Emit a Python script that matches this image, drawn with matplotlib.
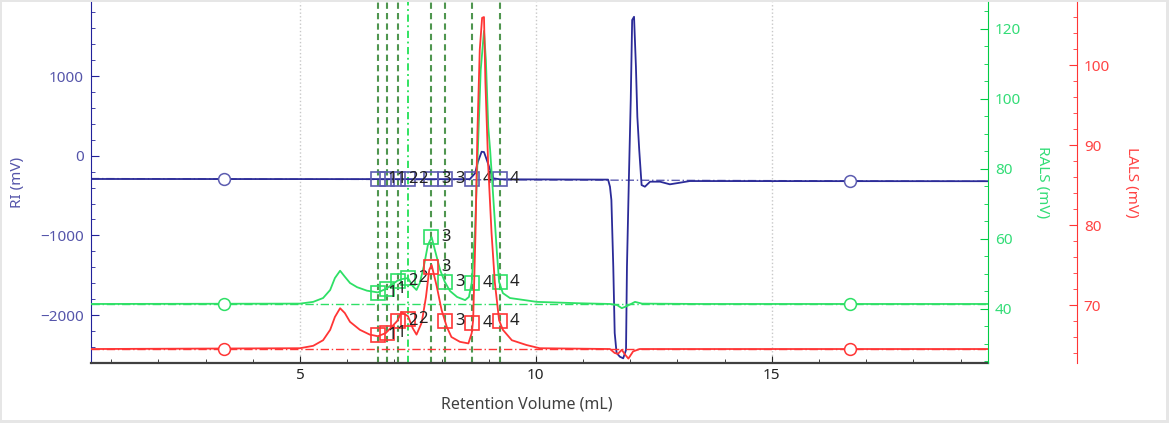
import matplotlib
matplotlib.use("Agg")
import matplotlib.pyplot as plt
from matplotlib.patches import Rectangle
from matplotlib.ticker import MultipleLocator

plt.rcParams['font.family'] = ['Noto Sans', 'DejaVu Sans']

# RI trace, retention volume (mL) vs mV
ri_x = [0.57, 8.60, 8.71, 8.77, 8.85, 8.90, 8.96, 9.03, 9.10, 9.24, 11.53, 11.57, 11.60,
        11.64, 11.67, 11.71, 11.78, 11.85, 11.91, 11.93, 11.97, 12.01, 12.04, 12.08, 12.12,
        12.15, 12.19, 12.24, 12.31, 12.42, 12.63, 12.84, 13.05, 13.26, 19.58]
ri_y = [-292, -294, -221, -79, 50, 46, -54, -179, -284, -296, -300, -389, -556,
        -1393, -2225, -2476, -2523, -2543, -2439, -1393, -305, 699, 1703, 1744, 1117,
        489, 72, -368, -389, -326, -326, -359, -339, -318, -320]

# RALS trace
rals_x = [0.57, 5.00, 5.28, 5.49, 5.64, 5.74, 5.85, 5.95, 6.06, 6.21, 6.42, 6.65, 6.82,
          7.06, 7.16, 7.29, 7.39, 7.47, 7.54, 7.63, 7.71, 7.79, 7.86, 7.97, 8.07, 8.18,
          8.33, 8.50, 8.58, 8.64, 8.71, 8.77, 8.83, 8.90, 8.94, 8.99, 9.03, 9.10, 9.17,
          9.22, 9.30, 9.45, 10.02, 10.93, 11.57, 11.72, 11.82, 11.93, 12.10, 12.25, 13.47, 19.58]
rals_y = [41.3, 41.4, 41.9, 43.0, 45.3, 48.7, 50.8, 49.1, 47.3, 46.1, 45.1, 44.6, 45.6,
          47.9, 48.4, 48.7, 46.4, 45.3, 47.3, 52.4, 58.1, 60.4, 56.7, 51.0, 47.6, 45.0,
          43.3, 42.4, 43.3, 47.3, 62.4, 85.3, 108.1, 119.3, 111.0, 91.9, 85.3, 71.0, 56.7,
          47.6, 44.4, 43.0, 41.9, 41.5, 41.3, 41.0, 40.1, 40.7, 41.9, 41.4, 41.3, 41.3]

# LALS trace
lals_x = [0.57, 5.00, 5.28, 5.49, 5.64, 5.74, 5.85, 5.95, 6.06, 6.27, 6.48, 6.65, 6.82,
          7.06, 7.15, 7.29, 7.39, 7.47, 7.58, 7.67, 7.74, 7.79, 7.90, 8.00, 8.11, 8.21,
          8.39, 8.57, 8.64, 8.67, 8.72, 8.76, 8.81, 8.86, 8.90, 8.93, 8.99, 9.06, 9.13,
          9.22, 9.30, 9.49, 9.80, 10.08, 11.57, 11.67, 11.74, 11.82, 11.89, 11.96, 12.06,
          12.20, 19.58]
lals_y = [64.5, 64.6, 64.9, 65.6, 66.9, 68.5, 69.6, 69.0, 67.9, 66.9, 66.3, 66.1, 66.5,
          68.0, 69.1, 68.6, 67.1, 66.3, 67.8, 71.0, 74.4, 75.0, 72.3, 69.4, 67.3, 66.0,
          65.4, 65.2, 66.5, 68.1, 79.0, 91.5, 101.9, 105.9, 106.0, 97.8, 87.3, 79.0, 72.8,
          68.1, 66.9, 65.6, 65.0, 64.6, 64.5, 64.0, 63.9, 64.4, 63.8, 63.3, 64.2,
          64.5, 64.5]

# peak limits and their labels
peak_x = [6.65, 6.84, 7.08, 7.29, 7.78, 8.08, 8.65, 9.24]
peak_labels = ['1', '1', '2', '2', '3', '3', '4', '4']
ri_marks = [-292, -292, -292, -292, -290, -292, -292, -292]
rals_marks = [44.5, 45.6, 47.9, 48.7, 60.4, 47.6, 47.2, 47.7]
lals_marks = [66.2, 66.5, 68.0, 68.3, 74.7, 68.0, 67.8, 68.0]

# baseline points
base_x = [3.39, 16.65]
ri_base = [-292, -316]
rals_base = [41.3, 41.3]
lals_base = [64.5, 64.5]

BLUE = '#2b2b98'
BLUE_LT = '#5c5cb0'
GREEN = '#2ee066'
RED = '#ff3535'

fig = plt.figure(figsize=(11.69, 4.23), dpi=100)
fig.patch.set_facecolor('#e6e6e6')
fig.add_artist(Rectangle((2 / 1169, 3 / 423), 1164 / 1169, 418 / 423,
                         transform=fig.transFigure, facecolor='white', edgecolor='none', zorder=0))

ax = fig.add_axes([0.0778, 0.1418, 0.7673, 0.8534])
ax.patch.set_alpha(0)
ax2 = ax.twinx()
ax3 = ax.twinx()
ax3.spines['right'].set_position(('axes', 1.0992))

ax.set_xlim(0.57, 19.58)
ax.set_ylim(-2602, 1929)
ax2.set_ylim(24.43, 127.57)
ax3.set_ylim(62.75, 107.875)

for xv in [5, 10, 15]:
    ax.axvline(xv, color='#c8c8c8', ls=':', lw=1, zorder=0)

for i, xv in enumerate(peak_x):
    if i == 3:
        ax.axvline(xv, color='#22e055', ls=(0, (4, 2, 1, 2)), lw=1.3, zorder=1)
    else:
        ax.axvline(xv, color='#4f964f', ls=(0, (3, 2)), lw=1.5, zorder=1)

# baselines
dd = (0, (6, 2, 1, 2))
ax.axline((base_x[0], ri_base[0]), (base_x[1], ri_base[1]), color=BLUE_LT, ls=dd, lw=1)
ax2.axhline(rals_base[0], color=GREEN, ls=dd, lw=1)
ax3.axhline(lals_base[0], color=RED, ls=dd, lw=1)

ax.plot(ri_x, ri_y, color=BLUE, lw=1.3)
ax2.plot(rals_x, rals_y, color=GREEN, lw=1.3)
ax3.plot(lals_x, lals_y, color=RED, lw=1.3)

for a, yb, c in [(ax, ri_base, BLUE_LT), (ax2, rals_base, GREEN), (ax3, lals_base, RED)]:
    a.plot(base_x, yb, ls='none', marker='o', ms=8.5, mfc='white', mec=c, mew=1.1)

for a, ym, c in [(ax, ri_marks, BLUE_LT), (ax2, rals_marks, GREEN), (ax3, lals_marks, RED)]:
    a.plot(peak_x, ym, ls='none', marker='s', ms=9.5, mfc='none', mec=c, mew=1.2)
    for xv, yv, lab in zip(peak_x, ym, peak_labels):
        a.annotate(lab, (xv, yv), xytext=(10, 0), textcoords='offset pixels',
                   ha='left', va='center', fontsize=12, color='#222222')

# axes styling
for a in (ax, ax2, ax3):
    a.spines['top'].set_visible(False)
for a in (ax2, ax3):
    a.spines['left'].set_visible(False)
    a.spines['bottom'].set_visible(False)
ax.spines['right'].set_visible(False)
ax2.spines['right'].set_color('#00cc44')
ax3.spines['right'].set_color(RED)
ax.spines['left'].set_color('#22229a')
ax.spines['bottom'].set_color('#404040')
ax.spines['bottom'].set_linewidth(1.6)

ax.xaxis.set_major_locator(MultipleLocator(5))
ax.xaxis.set_minor_locator(MultipleLocator(1))
ax.yaxis.set_major_locator(MultipleLocator(1000))
ax.yaxis.set_minor_locator(MultipleLocator(200))
ax2.yaxis.set_major_locator(MultipleLocator(20))
ax2.yaxis.set_minor_locator(MultipleLocator(5))
ax3.yaxis.set_major_locator(MultipleLocator(10))
ax3.yaxis.set_minor_locator(MultipleLocator(2))

ax.tick_params(axis='x', which='both', direction='in', colors='#222222', labelsize=11)
ax.tick_params(axis='x', which='major', length=5)
ax.tick_params(axis='x', which='minor', length=3)
ax.tick_params(axis='y', which='both', direction='in', color='#22229a', labelcolor='#5555aa',
               labelsize=11, pad=5)
ax2.tick_params(axis='y', which='both', direction='in', color='#00cc44', labelcolor='#33dd77',
                labelsize=11, pad=5)
ax3.tick_params(axis='y', which='both', direction='in', color=RED, labelcolor='#ff4444',
                labelsize=11, pad=5)
for a in (ax, ax2, ax3):
    a.tick_params(axis='y', which='major', length=6)
    a.tick_params(axis='y', which='minor', length=3)

ax.set_xlabel('Retention Volume (mL)', fontsize=11.5, color='#404040')
ax.xaxis.set_label_coords(0.486, -0.094)
ax.set_ylabel('RI (mV)', fontsize=11, color='#5555aa')
ax.yaxis.set_label_coords(-0.0736, 0.5)
ax2.set_ylabel('RALS (mV)', fontsize=11, color='#33dd77', rotation=270, va='center')
ax2.yaxis.set_label_coords(1.0613, 0.5)
ax3.set_ylabel('LALS (mV)', fontsize=11, color='#ff4444', rotation=270, va='center')
ax3.yaxis.set_label_coords(1.1605, 0.5)

fig.savefig('out.png', dpi=100)
